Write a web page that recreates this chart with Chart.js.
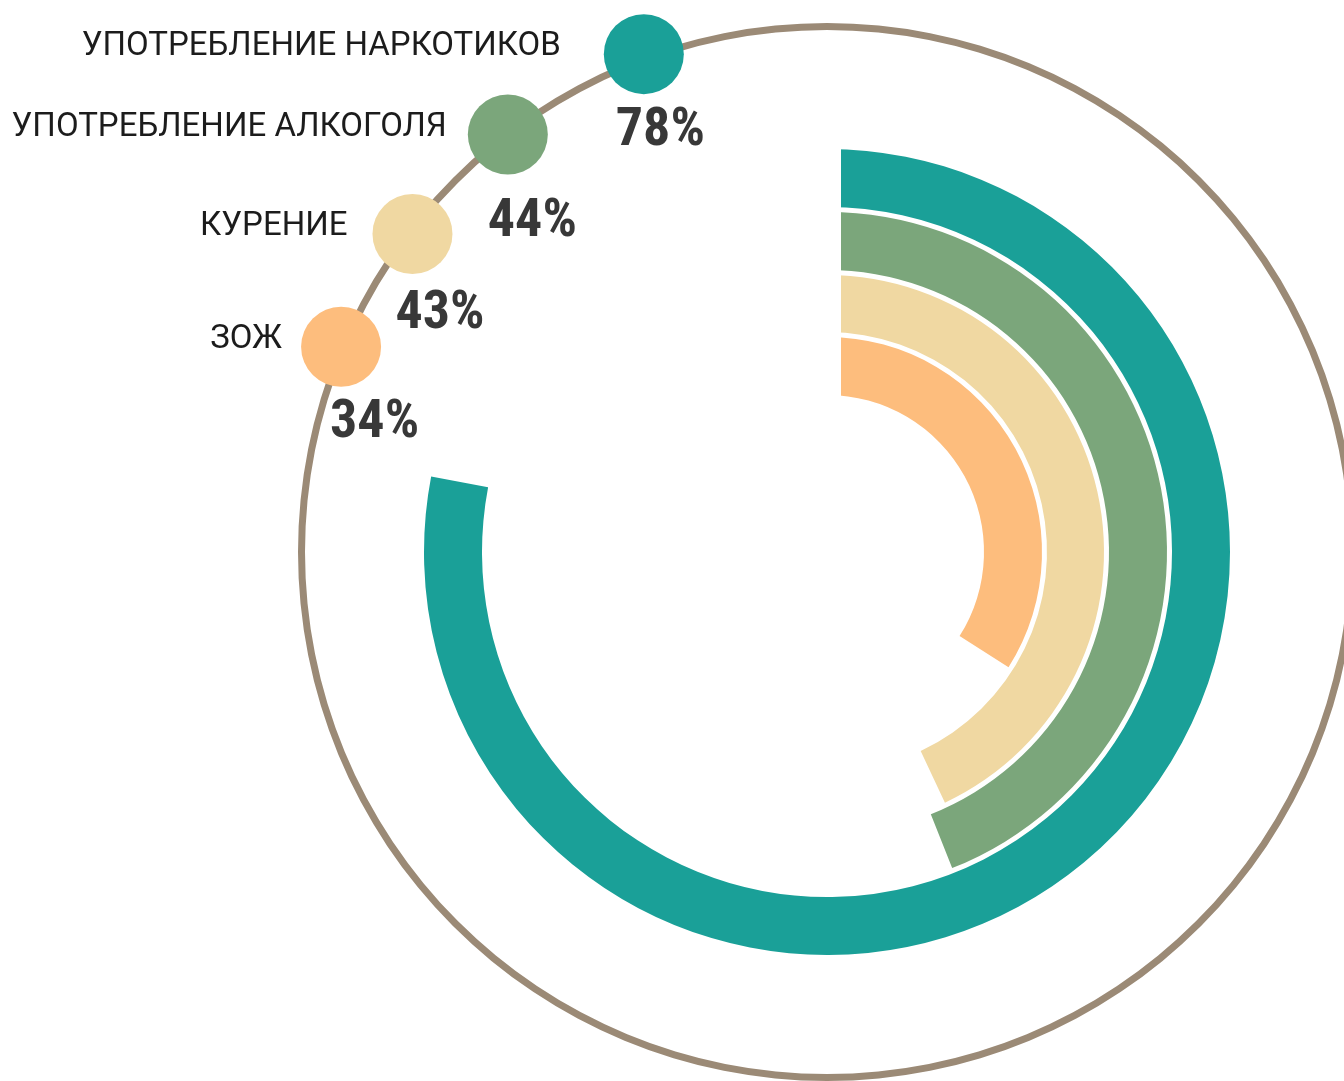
<!DOCTYPE html>
<html>
<head>
<meta charset="utf-8">
<script src="https://cdn.jsdelivr.net/npm/chart.js@4.4.0/dist/chart.umd.min.js"></script>
<style>
  html, body { margin: 0; padding: 0; background: #fff; overflow: hidden; }
  #wrap { position: absolute; left: 0; top: 0; width: 1360px; height: 1090px; }
</style>
</head>
<body>
<div id="wrap"><canvas id="chart"></canvas></div>
<script>
var categories = ["УПОТРЕБЛЕНИЕ НАРКОТИКОВ", "УПОТРЕБЛЕНИЕ АЛКОГОЛЯ", "КУРЕНИЕ", "ЗОЖ"];
var values = [78, 44, 43, 34];
var colors = ["#1aa098", "#7ba67b", "#f0d8a2", "#fdbd7d"];

var brown = "#9b8a76";
var clear = "rgba(0,0,0,0)";

// rings, outside to inside: padding, brown circle, empty space, then the four bars
var datasets = [
  { data: [100], backgroundColor: [clear], weight: 1 },
  { data: [100], backgroundColor: [brown], weight: 7 },
  { data: [100], backgroundColor: [clear], weight: 119 }
];
var firstBar = datasets.length;
values.forEach(function (v, i) {
  if (i > 0) datasets.push({ data: [100], backgroundColor: [clear], weight: 5 });
  datasets.push({ data: [v, 100 - v], backgroundColor: [colors[i], clear], weight: i == 2 ? 57 : 58 });
});

var markers = {
  id: "markers",
  afterDatasetsDraw: function (chart, args, opts) {
    var ctx = chart.ctx;
    var outer = chart.getDatasetMeta(firstBar).data[0];
    var inner = chart.getDatasetMeta(datasets.length - 1).data[0];
    // bars start on a straight vertical edge, a bit right of the centre
    ctx.save();
    ctx.fillStyle = "#fff";
    ctx.fillRect(outer.x - 1, outer.y - outer.outerRadius - 2, opts.startEdge + 1, outer.outerRadius - inner.innerRadius + 8);
    ctx.restore();
  },
  afterDraw: function (chart, args, opts) {
    var ctx = chart.ctx;
    var ring = chart.getDatasetMeta(1).data[0];
    var r = (ring.outerRadius + ring.innerRadius) / 2;
    ctx.save();
    categories.forEach(function (name, i) {
      var a = opts.angles[i] * Math.PI / 180;
      var rr = r + opts.shift[i];
      var x = ring.x - rr * Math.sin(a);
      var y = ring.y - rr * Math.cos(a);
      ctx.beginPath();
      ctx.arc(x, y, 40, 0, Math.PI * 2);
      ctx.fillStyle = colors[i];
      ctx.fill();

      ctx.fillStyle = "#1c1c1c";
      ctx.font = "400 33px Roboto, 'Liberation Sans', sans-serif";
      ctx.textAlign = "right";
      ctx.textBaseline = "alphabetic";
      ctx.fillText(name, x - opts.labelGap[i], y + 1);

      ctx.fillStyle = "#383838";
      ctx.font = "bold 54px 'Liberation Sans Narrow', 'Roboto Condensed', Roboto, sans-serif";
      ctx.textAlign = "left";
      ctx.fillText(values[i] + "%", x + opts.pct[i][0], y + opts.pct[i][1]);
    });
    ctx.restore();
  }
};

new Chart(document.getElementById("chart"), {
  type: "doughnut",
  data: { labels: ["value", "rest"], datasets: datasets },
  options: {
    responsive: true,
    maintainAspectRatio: false,
    animation: false,
    events: [],
    cutout: 157,
    borderWidth: 0,
    layout: { padding: { left: 297, top: 22, right: 3, bottom: 8 } },
    elements: { arc: { borderWidth: 0 } },
    plugins: {
      legend: { display: false },
      tooltip: { enabled: false },
      markers: {
        startEdge: 14,
        angles: [20.2, 37.4, 52.5, 67.1],
        shift: [5, 0, -3, 2],
        labelGap: [83, 61, 65, 59],
        pct: [[-28, 91], [-20, 101], [-17, 94], [-11, 90]]
      }
    }
  },
  plugins: [markers]
});
</script>
</body>
</html>
